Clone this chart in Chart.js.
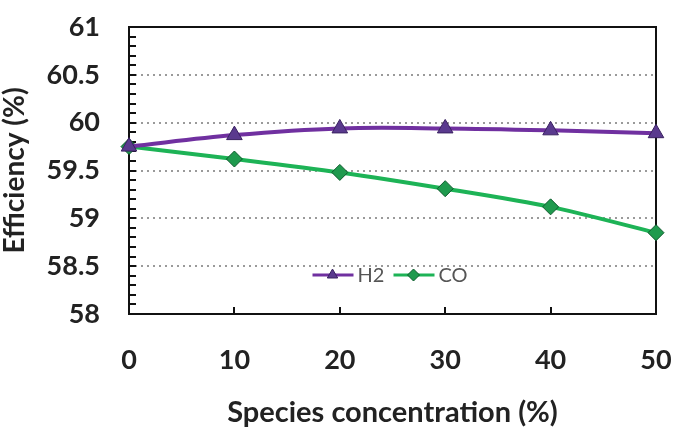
<!DOCTYPE html>
<html><head><meta charset="utf-8">
<script src="https://cdn.jsdelivr.net/npm/chart.js@4/dist/chart.umd.min.js"></script>
<style>html,body{margin:0;padding:0;background:#fff}#wrap{width:673px;height:435px}</style>
</head><body><div id="wrap"><canvas id="c" width="673" height="435"></canvas></div>
<script>
const concentrations = [0, 10, 20, 30, 40, 50];
const h2Efficiency = [59.75, 59.87, 59.94, 59.94, 59.92, 59.89];
const coEfficiency = [59.75, 59.62, 59.48, 59.31, 59.12, 58.85];
const seriesNames = ['H2', 'CO'];
const xTitle = 'Species concentration (%)';
const yTitle = 'Efficiency (%)';

const FONT = 'Lato, "Open Sans", sans-serif';
const isMajor = v => Math.abs(v * 2 - Math.round(v * 2)) < 1e-6;

const frame = {
  id: 'frame',
  beforeDatasetsDraw(chart) {
    const {ctx, chartArea: a, scales: {x, y}} = chart;
    ctx.save();
    ctx.strokeStyle = '#111';
    ctx.lineWidth = 2;
    ctx.strokeRect(a.left, a.top, a.right - a.left, a.bottom - a.top);
    ctx.beginPath();
    y.ticks.forEach(t => {
      const py = Math.round(y.getPixelForValue(t.value));
      ctx.moveTo(a.left, py);
      ctx.lineTo(a.left + 7, py);
    });
    x.ticks.forEach(t => {
      if (t.value <= x.min || t.value >= x.max) return;
      const px = Math.round(x.getPixelForValue(t.value));
      ctx.moveTo(px, a.bottom);
      ctx.lineTo(px, a.bottom - 7);
    });
    ctx.stroke();
    ctx.restore();
  },
  afterDraw(chart) {
    const {ctx, chartArea: a} = chart;
    const cx = (a.left + a.right) / 2;
    const ly = a.bottom - 39;
    ctx.save();
    ctx.font = '20px ' + FONT;
    ctx.textBaseline = 'middle';
    let xPos = cx - 80;
    chart.data.datasets.forEach((ds) => {
      ctx.strokeStyle = ds.borderColor;
      ctx.lineWidth = 3;
      ctx.beginPath();
      ctx.moveTo(xPos, ly);
      ctx.lineTo(xPos + 41, ly);
      ctx.stroke();
      ctx.fillStyle = ds.pointBackgroundColor;
      ctx.strokeStyle = ds.pointBorderColor;
      ctx.lineWidth = 1;
      Chart.helpers.drawPoint(ctx, {pointStyle: ds.pointStyle, radius: 6, borderWidth: 1}, xPos + 20, ly);
      ctx.fillStyle = '#555';
      ctx.fillText(ds.label, xPos + 45, ly + 1);
      xPos += 81;
    });
    ctx.restore();
  }
};

new Chart(document.getElementById('c'), {
  type: 'line',
  data: {
    datasets: [
      {
        label: seriesNames[0],
        data: concentrations.map((c, i) => ({x: c, y: h2Efficiency[i]})),
        borderColor: '#7030A0',
        borderWidth: 4,
        pointStyle: 'triangle',
        pointRadius: 9,
        pointBackgroundColor: '#5A3A8E',
        pointBorderColor: '#3A2260',
        pointBorderWidth: 1,
        tension: 0.35,
        clip: false
      },
      {
        label: seriesNames[1],
        data: concentrations.map((c, i) => ({x: c, y: coEfficiency[i]})),
        borderColor: '#1DB356',
        borderWidth: 4,
        pointStyle: 'rectRot',
        pointRadius: 8,
        pointBackgroundColor: '#1F9A4E',
        pointBorderColor: '#0D5A2C',
        pointBorderWidth: 1,
        tension: 0.3,
        clip: false
      }
    ]
  },
  options: {
    responsive: false,
    animation: false,
    events: [],
    layout: {padding: {top: 27, right: 17, left: 0, bottom: 0}},
    plugins: {legend: {display: false}, tooltip: {enabled: false}},
    scales: {
      x: {
        type: 'linear', min: 0, max: 50,
        border: {display: false},
        grid: {display: false, drawTicks: false},
        ticks: {stepSize: 10, padding: 30, color: '#222', font: {family: FONT, size: 27, weight: 'bold'}, maxRotation: 0},
        title: {display: true, text: xTitle, color: '#222', font: {family: FONT, size: 29, weight: 'bold'}, padding: {top: 0, bottom: 5}},
        afterFit(s) { s.height = 121; s.paddingLeft = 0; s.paddingRight = 0; }
      },
      y: {
        min: 58, max: 61,
        border: {display: false, dash: [2, 4]},
        grid: {
          drawTicks: false,
          color: c => (c.tick && isMajor(c.tick.value) && c.tick.value > 58.01 && c.tick.value < 60.99) ? '#9a9a9a' : 'rgba(0,0,0,0)',
          lineWidth: 2
        },
        ticks: {
          stepSize: 0.1, autoSkip: false, padding: 29, color: '#222',
          font: {family: FONT, size: 27, weight: 'bold'},
          callback: v => isMajor(v) ? String(Number(v.toFixed(1))) : ''
        },
        title: {display: true, text: yTitle, color: '#222', font: {family: FONT, size: 28, weight: 'bold', lineHeight: 1.1}, padding: {top: 0, bottom: 0}},
        afterFit(s) { s.width = 129; s.paddingTop = 0; s.paddingBottom = 0; }
      }
    }
  },
  plugins: [frame]
});
</script></body></html>
